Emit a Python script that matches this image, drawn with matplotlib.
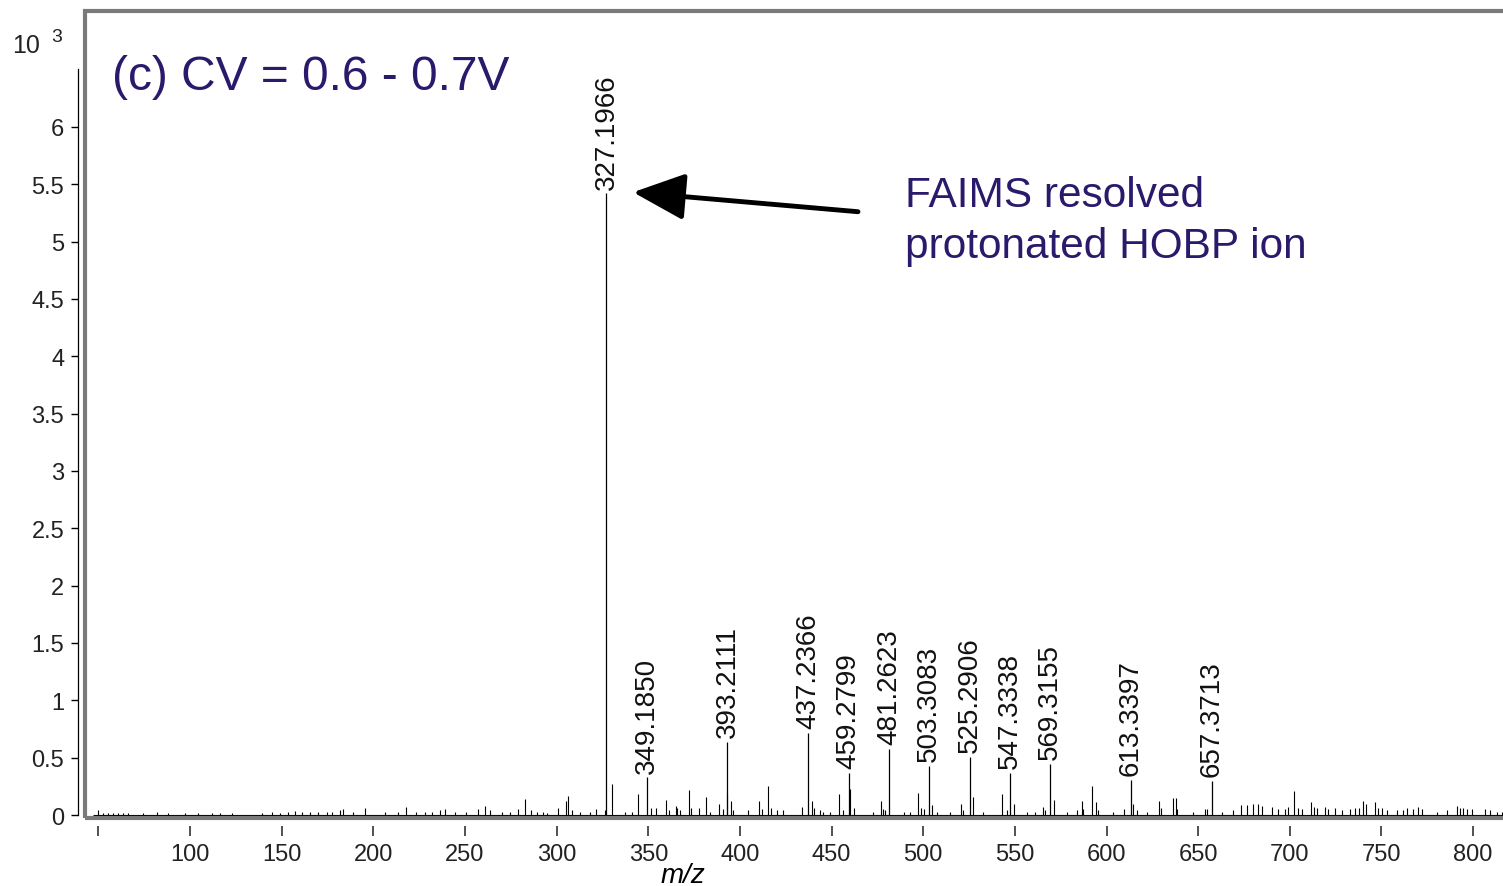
import matplotlib.pyplot as plt
from matplotlib.patches import Rectangle
import numpy as np

plt.rcParams['font.family'] = ['Liberation Sans', 'DejaVu Sans']

# Labelled peaks (m/z, intensity in units of 10^3 counts)
peak_mz = [327.1966, 349.1850, 393.2111, 437.2366, 459.2799, 481.2623,
           503.3083, 525.2906, 547.3338, 569.3155, 613.3397, 657.3713]
peak_int = [5.42, 0.33, 0.64, 0.715, 0.37, 0.575,
            0.43, 0.51, 0.37, 0.445, 0.305, 0.30]

# Unlabelled minor peaks
minor_mz = [50.0, 52.7, 55.4, 58.2, 60.9, 63.6, 66.3, 74.5, 81.8, 88.2, 97.3,
            104.5, 111.8, 116.4, 122.7, 139.1, 144.6, 149.1, 153.6, 157.3, 160.9,
            165.5, 170.0, 174.6, 177.3, 181.8, 183.6, 189.1, 195.5, 206.4, 213.6,
            217.8, 223.3, 228.2, 231.9, 236.4, 239.1, 244.6, 250.6, 257.3, 260.9,
            263.7, 270.0, 274.6, 279.1, 282.8, 285.9, 289.1, 292.4, 294.6, 301.0,
            305.1, 306.4, 308.2, 312.8, 318.2, 321.5, 326.4, 330.1, 337.3, 341.0,
            344.2, 351.3, 354.2, 359.5, 361.3, 365.0, 365.9, 367.3, 372.4, 373.3,
            377.7, 381.5, 383.7, 388.4, 390.6, 392.8, 395.0, 396.4, 404.6, 410.4,
            411.9, 415.5, 417.0, 420.1, 423.7, 433.7, 439.2, 440.4, 443.7, 445.5,
            449.2, 454.1, 456.1, 460.1, 462.4, 472.8, 477.0, 478.2, 479.2, 489.7,
            492.8, 497.2, 498.6, 500.4, 505.0, 507.4, 514.6, 520.5, 521.9, 527.3,
            532.8, 542.8, 545.5, 549.5, 556.5, 561.0, 565.5, 566.4, 571.4, 578.3,
            583.7, 586.5, 587.3, 591.9, 594.3, 595.5, 603.7, 609.5, 614.6, 616.5,
            621.9, 628.8, 629.7, 636.4, 637.7, 638.3, 647.4, 653.7, 654.7, 662.8,
            669.2, 673.2, 676.5, 680.1, 682.8, 684.7, 690.1, 693.7, 697.4, 699.2,
            702.5, 704.6, 706.5, 711.6, 713.2, 714.7, 719.2, 721.0, 724.7, 728.3,
            732.8, 735.6, 737.9, 740.1, 741.6, 746.5, 748.3, 750.1, 752.9, 758.3,
            761.9, 763.8, 767.4, 770.1, 772.0, 780.1, 785.6, 791.0, 792.8, 794.7,
            796.5, 799.2, 806.5, 809.2, 812.8, 815.6]
minor_int = [0.04, 0.02, 0.015, 0.02, 0.015, 0.02, 0.015, 0.015, 0.03, 0.02, 0.02,
             0.02, 0.02, 0.02, 0.02, 0.02, 0.025, 0.02, 0.03, 0.035, 0.03,
             0.025, 0.03, 0.03, 0.025, 0.04, 0.05, 0.03, 0.06, 0.03, 0.03,
             0.07, 0.03, 0.03, 0.03, 0.04, 0.05, 0.03, 0.03, 0.05, 0.08,
             0.04, 0.03, 0.03, 0.05, 0.14, 0.04, 0.03, 0.03, 0.02, 0.06,
             0.12, 0.17, 0.04, 0.03, 0.03, 0.055, 0.04, 0.27, 0.03, 0.03,
             0.18, 0.06, 0.06, 0.13, 0.04, 0.075, 0.06, 0.04, 0.22, 0.06,
             0.06, 0.16, 0.03, 0.10, 0.05, 0.18, 0.12, 0.04, 0.04, 0.12,
             0.05, 0.25, 0.06, 0.04, 0.04, 0.07, 0.12, 0.06, 0.04, 0.03,
             0.03, 0.18, 0.04, 0.23, 0.06, 0.03, 0.12, 0.05, 0.04, 0.03,
             0.03, 0.195, 0.06, 0.05, 0.085, 0.03, 0.03, 0.10, 0.04, 0.16,
             0.03, 0.185, 0.04, 0.10, 0.03, 0.03, 0.07, 0.04, 0.13, 0.03,
             0.04, 0.12, 0.05, 0.25, 0.11, 0.04, 0.03, 0.05, 0.10, 0.04,
             0.03, 0.12, 0.06, 0.15, 0.145, 0.05, 0.03, 0.05, 0.05, 0.03,
             0.04, 0.09, 0.09, 0.10, 0.10, 0.08, 0.07, 0.05, 0.05, 0.07,
             0.21, 0.06, 0.05, 0.11, 0.07, 0.06, 0.07, 0.05, 0.06, 0.04,
             0.05, 0.06, 0.06, 0.12, 0.10, 0.11, 0.06, 0.06, 0.04, 0.04,
             0.04, 0.06, 0.05, 0.07, 0.05, 0.03, 0.04, 0.08, 0.06, 0.06,
             0.05, 0.05, 0.05, 0.04, 0.03, 0.03]

x_ticks = list(range(50, 801, 50))
y_ticks = np.arange(0, 6.01, 0.5)

purple = '#2b1a6b'
W, H = 1503, 887

fig = plt.figure(figsize=(W / 100, H / 100), dpi=100)
ax = fig.add_axes([85 / W, 1 - 819 / H, (W - 85) / W, (819 - 12) / H])
ax.set_xlim(42.7, 816.3)
ax.set_ylim(-0.026, 7.01)

# spectrum sticks
ax.hlines(0.004, 47, 817, color='black', lw=0.8)
ax.vlines(minor_mz, 0, minor_int, color='black', lw=0.8)
ax.vlines(peak_mz, 0, peak_int, color='black', lw=0.9)
for mz, h in zip(peak_mz, peak_int):
    ax.text(mz, h + 0.04, f'{mz:.4f}', rotation=90, ha='center', va='bottom',
            fontsize=20, color='#111111')

# grey box around the plot area
ax.add_patch(Rectangle((0, 0), 1.05, 1, transform=ax.transAxes, fill=False,
                       ec='#7a7a7a', lw=3, clip_on=False, zorder=5))

for side in ['top', 'right']:
    ax.spines[side].set_visible(False)
ax.spines['bottom'].set_position(('outward', 6))
ax.spines['bottom'].set_color('none')
ax.spines['left'].set_position(('outward', 5))
ax.spines['left'].set_bounds(0, 6.5)
ax.spines['left'].set_linewidth(0.9)

ax.set_xticks(x_ticks)
ax.set_xticklabels(['' if v == 50 else str(v) for v in x_ticks])
ax.set_yticks(y_ticks)
ax.set_yticklabels([f'{v:g}' for v in y_ticks])
ax.tick_params(axis='x', length=7, width=1.2, color='#333333', pad=5,
               labelsize=17, labelcolor='#222222')
ax.tick_params(axis='y', length=5, width=1, pad=5, labelsize=17,
               labelcolor='#222222')

fig.text(12 / W, 1 - 46 / H, '10', fontsize=18, va='center', color='#222222')
fig.text(51 / W, 1 - 37 / H, '3', fontsize=14, va='center', color='#222222')
fig.text(683 / W, 1 - 876 / H, 'm/z', style='italic', fontsize=20,
         ha='center', va='center')

fig.text(112 / W, 1 - 78 / H, '(c) CV = 0.6 - 0.7V', fontsize=34.5,
         color=purple, va='center')
fig.text(905 / W, 1 - 176 / H, 'FAIMS resolved\nprotonated HOBP ion',
         fontsize=30.5, color=purple, va='top', linespacing=1.35)

ax.annotate('', xy=(341.7, 5.43), xytext=(464.4, 5.26),
            arrowprops=dict(arrowstyle='-|>,head_length=0.8,head_width=0.36',
                            mutation_scale=40, lw=3.5, color='black',
                            shrinkA=0, shrinkB=0))

fig.savefig('out.png', dpi=100)
